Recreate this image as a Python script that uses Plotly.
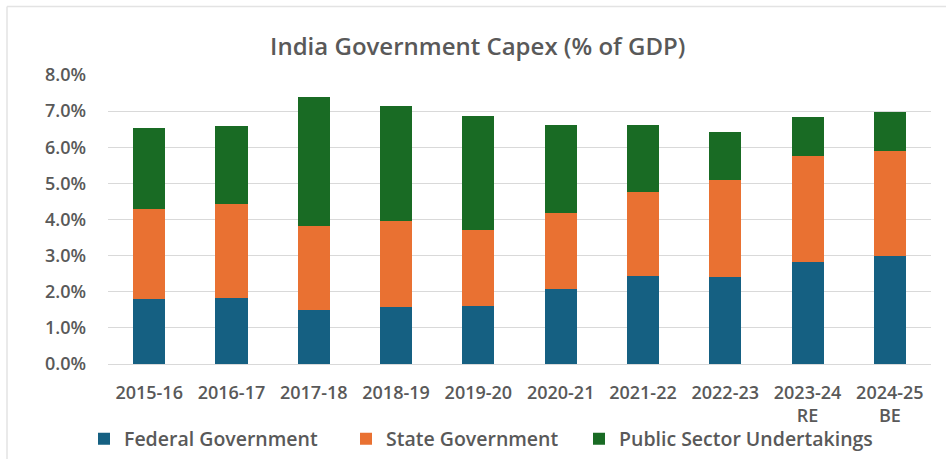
import plotly.graph_objects as go

years = ["2015-16", "2016-17", "2017-18", "2018-19", "2019-20",
         "2020-21", "2021-22", "2022-23", "2023-24<br>RE", "2024-25<br>BE"]
federal = [1.81, 1.82, 1.50, 1.58, 1.61, 2.07, 2.44, 2.42, 2.83, 2.99]
state = [2.48, 2.60, 2.33, 2.37, 2.09, 2.11, 2.31, 2.68, 2.93, 2.92]
psu = [2.25, 2.18, 3.57, 3.19, 3.16, 2.43, 1.86, 1.33, 1.09, 1.07]

series = [
    ("Federal Government", federal, "#156082", "legend"),
    ("State Government", state, "#E97132", "legend2"),
    ("Public Sector Undertakings", psu, "#196B24", "legend3"),
]

FONT = "Open Sans"
GRAY = "#595959"

fig = go.Figure()
for name, vals, col, lg in series:
    fig.add_trace(go.Bar(x=years, y=vals, name=name, marker_color=col,
                         marker_line_width=0, legend=lg, showlegend=True))

W, H = 946, 459
L, R, T, B = 108, 15, 75, 95
pw, ph = W - L - R, H - T - B


def leg(xpx):
    return dict(orientation="h", xref="container", x=xpx / W, xanchor="left",
                yref="container", y=1 - 439 / H, yanchor="middle",
                font=dict(size=19.5, color=GRAY, weight=600), itemwidth=30,
                bgcolor="rgba(0,0,0,0)", visible=True)


def px_x(p):
    return (p - L) / pw


def px_y(p):
    return (H - B - p) / ph


fig.update_layout(
    width=W, height=H,
    margin=dict(l=L, r=R, t=T, b=B, autoexpand=False),
    barmode="stack", bargap=0.61,
    plot_bgcolor="white", paper_bgcolor="white",
    font=dict(family=FONT, color=GRAY, size=16),
    showlegend=True,
    title=dict(text="India Government Capex (% of GDP)", x=0.505, xanchor="center",
               y=1 - 47 / H, yanchor="middle",
               font=dict(family=FONT, size=24, color=GRAY, weight=600)),
    xaxis=dict(showgrid=False, showline=True, linecolor="#D9D9D9", linewidth=1,
               tickfont=dict(size=18, color=GRAY, weight=600), ticks="",
               ticklabelstandoff=12),
    yaxis=dict(range=[0, 8], dtick=1, tickformat=".1f", ticksuffix="%",
               showgrid=True, gridcolor="#D9D9D9", gridwidth=1, zeroline=False,
               tickfont=dict(size=18, color=GRAY, weight=600), ticklabelstandoff=21),
    legend=leg(84),
    legend2=leg(346),
    legend3=leg(579),
    shapes=[
        dict(type="line", xref="paper", yref="paper",
             x0=px_x(7), x1=px_x(946), y0=px_y(6.5), y1=px_y(6.5),
             line=dict(color="#E3E3E3", width=1.5), layer="below"),
        dict(type="line", xref="paper", yref="paper",
             x0=px_x(7), x1=px_x(7), y0=px_y(6.5), y1=px_y(459),
             line=dict(color="#E3E3E3", width=1.5), layer="below"),
    ],
)

fig.write_html("out.html", config={"displayModeBar": False},
               post_script="document.body.style.margin='0';")
